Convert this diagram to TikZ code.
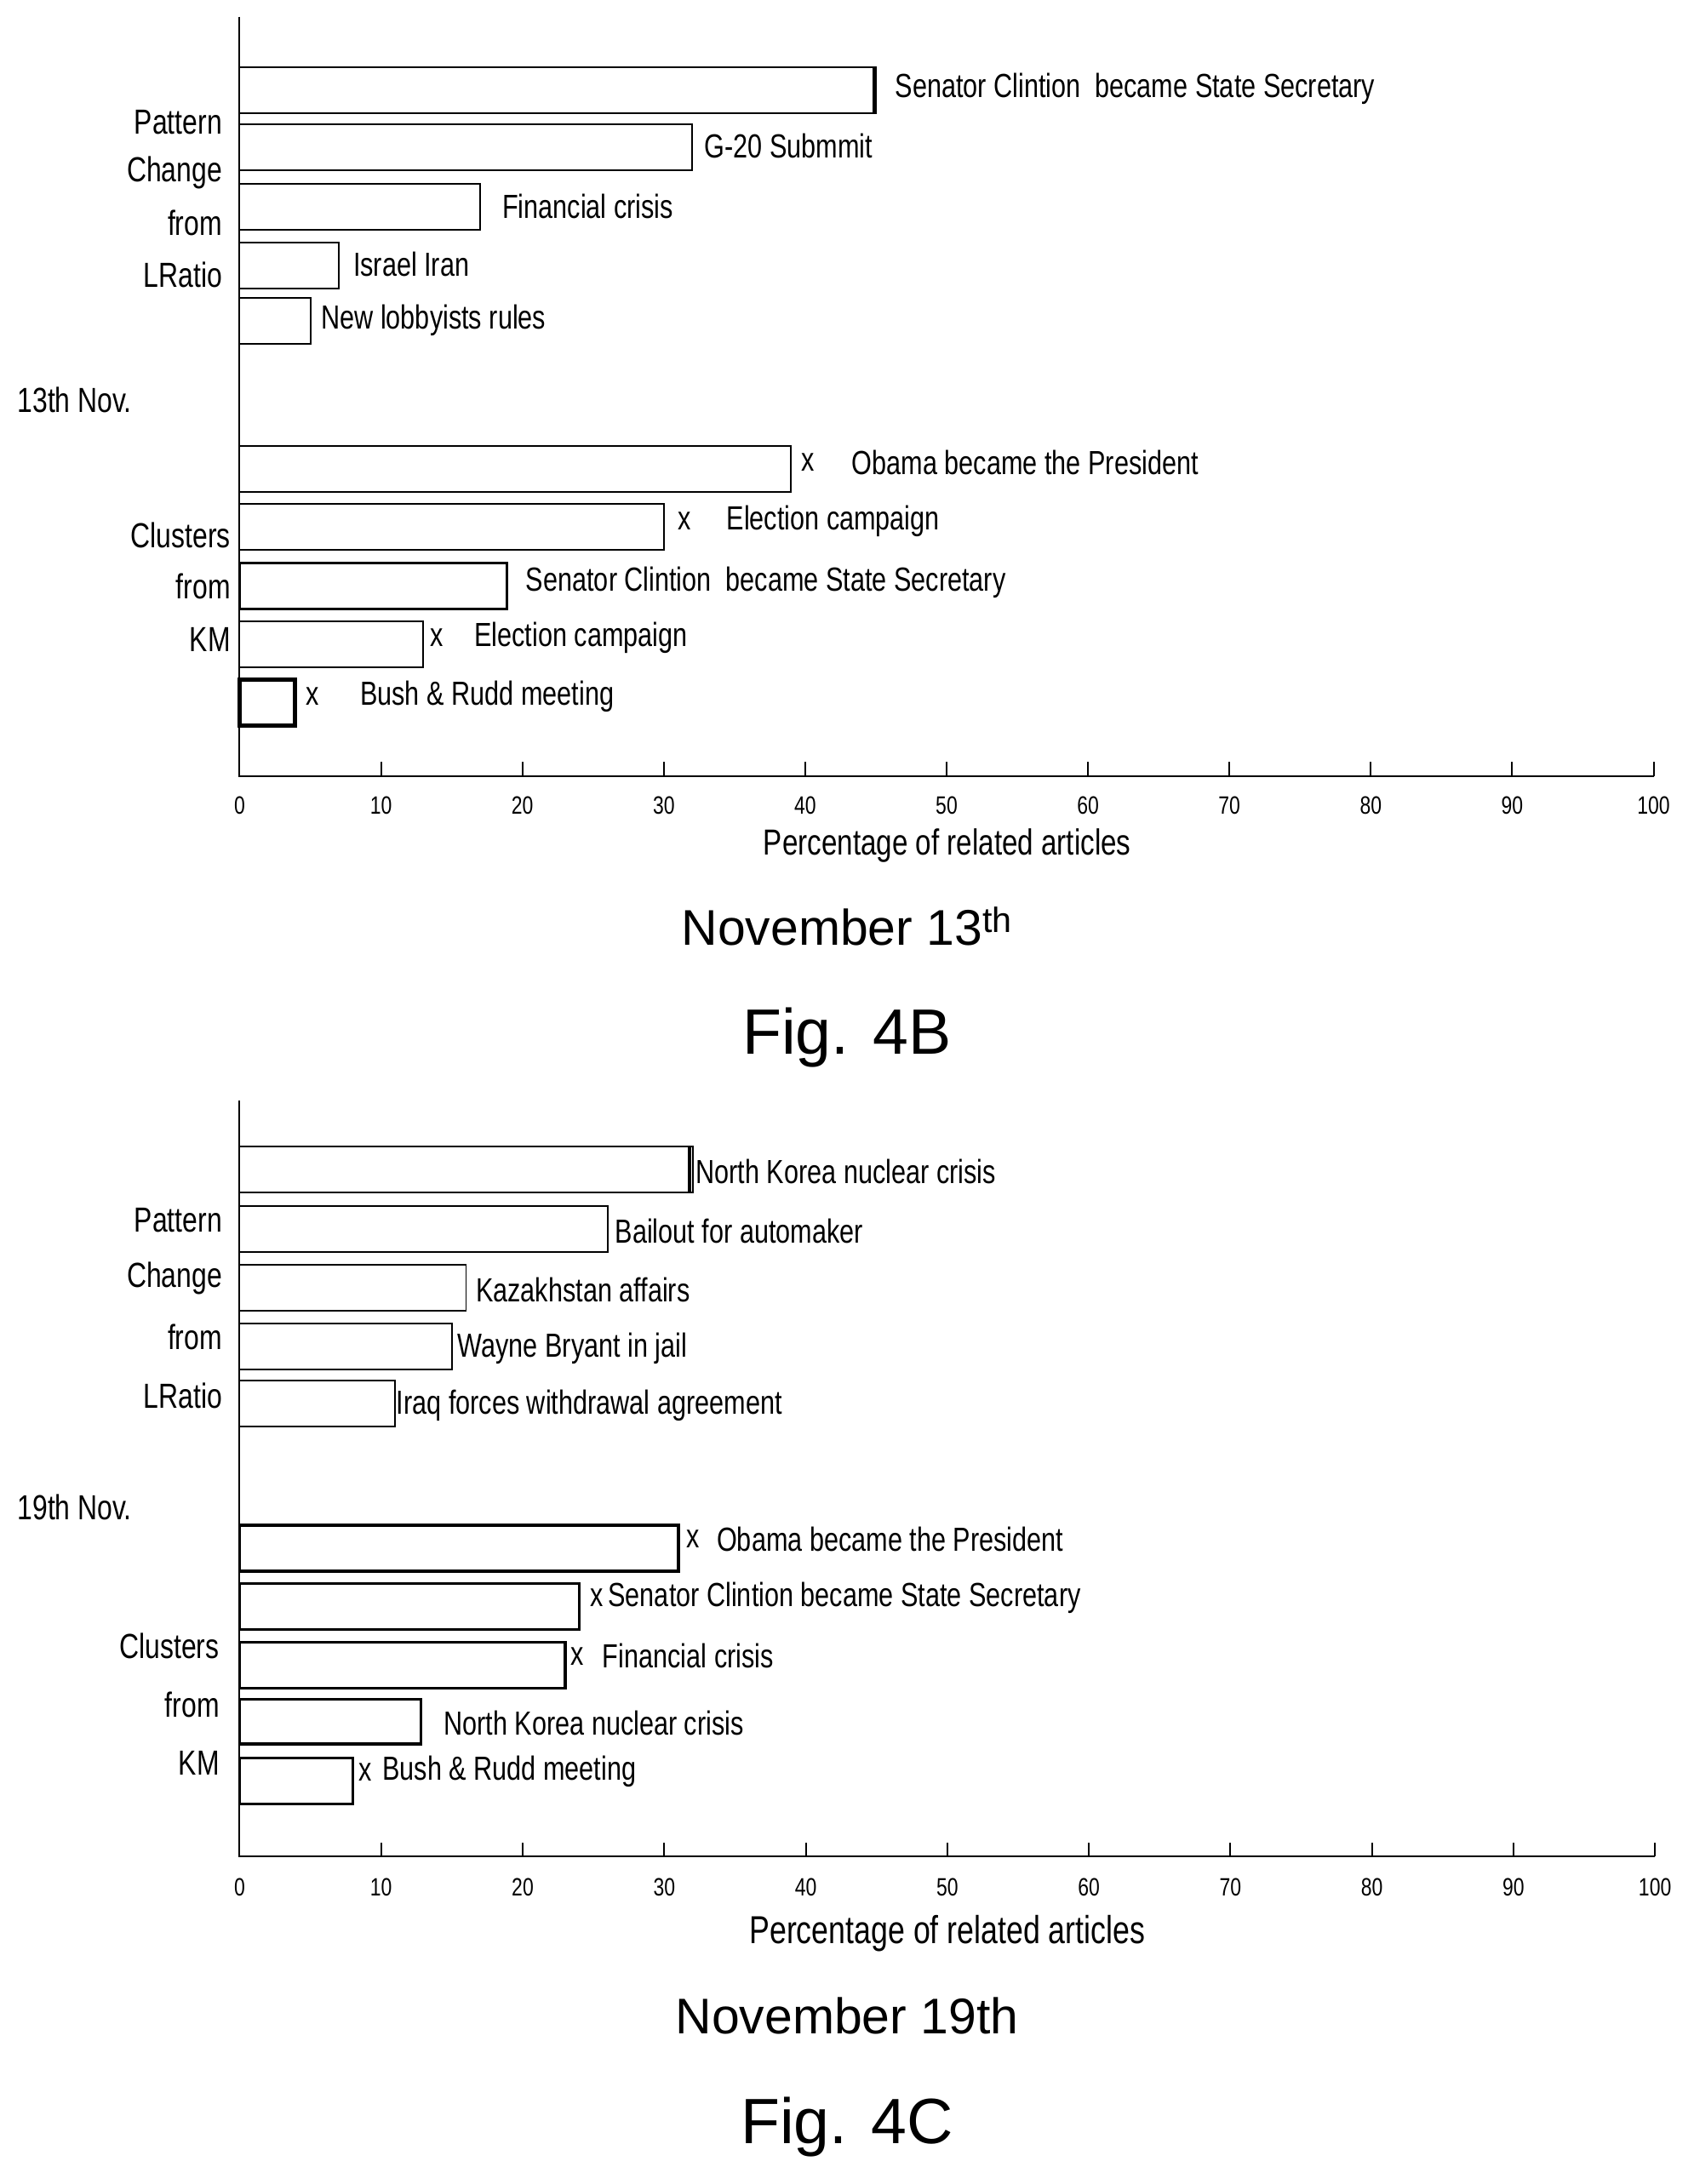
\documentclass[tikz,border=0pt]{standalone}
\usepackage{fontspec}
\setmainfont{Liberation Sans}
\newfontfamily\narrowf[FakeStretch=0.78]{Liberation Sans}
\begin{document}
\tikzset{every picture/.style={line width=1.2pt}}
\tikzset{bar/.style={draw,line width=1.2pt},
  barlab/.style={anchor=west,inner sep=0pt,font=\narrowf\fontsize{24}{26}\selectfont},
  side/.style={anchor=east,inner sep=0pt,font=\narrowf\fontsize{25}{27}\selectfont},
  ticklab/.style={inner sep=0pt,font=\narrowf\fontsize{18}{20}\selectfont},
  datecap/.style={inner sep=0pt,font=\fontsize{36}{40}\selectfont},
  figcap/.style={inner sep=0pt,font=\fontsize{46}{50}\selectfont}}

\begin{tikzpicture}[x=1pt,y=1pt,yscale=-1,xscale=1]
\useasboundingbox (0,0) rectangle (1216,1568);

% Fig. 4B axes
\draw (172,12) -- (172,557) -- (1187,557);
\foreach \t in {0,10,...,100}{
  \draw (172+10.15*\t,557) -- (172+10.15*\t,547);
  \node[ticklab] (ta\t) at (172+10.15*\t,578) {\t};
}
\node[ticklab,font=\narrowf\fontsize{26}{28}\selectfont] (xla) at (680,607) {Percentage of related articles};

% Fig. 4B pattern change bars
\foreach \yt/\v/\lx/\lab in {48/45/642/{Senator Clintion\ \ became State Secretary},89/32/505/{G-20 Submmit},132/17/360/{Financial crisis},174/7/253/{Israel Iran},214/5/230/{New lobbyists rules}}{
  \draw[bar] (172,\yt) rectangle (172+10.15*\v,\yt+33);
  \node[barlab] at (\lx,\yt+16) {\lab};
}
\draw[line width=3pt] (628,48) -- (628,81);
\node[side] (pa) at (160,88) {Pattern};
\node[side] (ca) at (160,124) {Change};
\node[side] (fa) at (160,160) {from};
\node[side] (la) at (160,197) {LRatio};
\node[side,anchor=west] (da) at (12,287) {13th Nov.};

% Fig. 4B clusters
\foreach \yt/\v/\mx/\lx/\lab in {320/39/580/611/{Obama became the President},362/30/491/521/{Election campaign},446/13/313/340/{Election campaign},488/4/224/258/{Bush \& Rudd meeting}}{
  \draw[bar] (172,\yt) rectangle (172+10.15*\v,\yt+33);
  \node[barlab] at (\mx-5,\yt+12) {x};
  \node[barlab] at (\lx,\yt+12) {\lab};
}
\draw[bar,line width=2pt] (172,404) rectangle (364,437);
\node[barlab] at (377,418) {Senator Clintion\ \ became State Secretary};
\draw[line width=3pt] (172,488) rectangle (212,521);
\node[side] (cla) at (166,384) {Clusters};
\node[side] (fra) at (166,421) {from};
\node[side] (kma) at (166,459) {KM};

\node[datecap] (na) at (608,665) {November 13\textsuperscript{th}};
\node[figcap] (ga) at (608,745) {Fig. 4B};

% Fig. 4C axes
\draw (172,790) -- (172,1333) -- (1188,1333);
\foreach \t in {0,10,...,100}{
  \draw (172+10.16*\t,1333) -- (172+10.16*\t,1323);
  \node[ticklab] (tc\t) at (172+10.16*\t,1355) {\t};
}
\node[ticklab,font=\narrowf\fontsize{28}{30}\selectfont] (xlc) at (680,1388) {Percentage of related articles};

% Fig. 4C pattern change bars
\foreach \yt/\v/\lx/\lab in {823/32/499/{North Korea nuclear crisis},866/26/441/{Bailout for automaker},908/16/341/{Kazakhstan affairs},950/15/328/{Wayne Bryant in jail},991/11/284/{Iraq forces withdrawal agreement}}{
  \draw[bar] (172,\yt) rectangle (172+10.16*\v,\yt+33);
  \node[barlab] at (\lx,\yt+18) {\lab};
}
\draw[line width=2.5pt] (495,823) -- (495,856);
\node[side] (pc) at (160,876) {Pattern};
\node[side] (cc) at (160,918) {Change};
\node[side] (fc) at (160,960) {from};
\node[side] (lc) at (160,1002) {LRatio};
\node[side,anchor=west] (dc) at (12,1082) {19th Nov.};

% Fig. 4C clusters
\foreach \yt/\v/\mx/\lx/\lab in {1095/31/497/514/{Obama became the President},1137/24/428/436/{Senator Clintion became State Secretary},1179/23/414/432/{Financial crisis},1262/8/262/274/{Bush \& Rudd meeting}}{
  \draw[bar,line width=2pt] (172,\yt) rectangle (172+10.16*\v,\yt+33);
  \node[barlab] at (\mx-5,\yt+10) {x};
  \node[barlab] at (\lx,\yt+10) {\lab};
}
\draw[bar,line width=2pt] (172,1220) rectangle (302,1252);
\node[barlab] at (318,1237) {North Korea nuclear crisis};
\node[side] (clc) at (158,1182) {Clusters};
\node[side] (frc) at (158,1224) {from};
\node[side] (kmc) at (158,1266) {KM};

\node[datecap] (nc) at (608,1447) {November 19th};
\node[figcap] (gc) at (608,1527) {Fig. 4C};

\end{tikzpicture}
\end{document}
